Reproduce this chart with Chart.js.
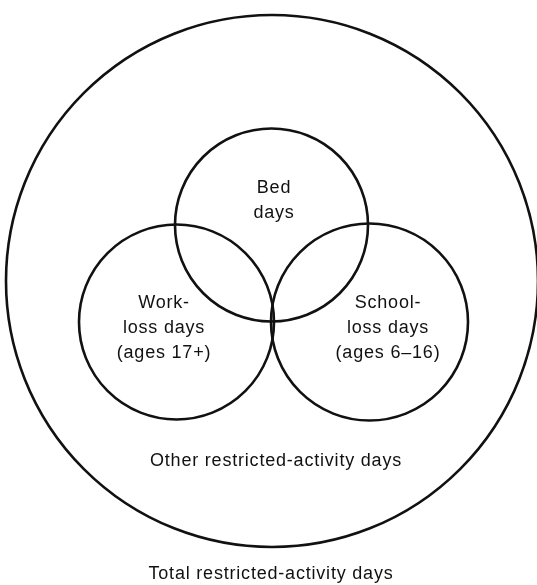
<!DOCTYPE html>
<html>
<head>
<meta charset="utf-8">
<script src="https://cdn.jsdelivr.net/npm/chart.js@4/dist/chart.umd.min.js"></script>
<style>
  html, body { margin: 0; padding: 0; background: #fff; }
  #wrap { width: 537px; height: 585px; }
</style>
</head>
<body>
<div id="wrap"><canvas id="c" width="537" height="585"></canvas></div>
<script>
// Sets (circles) of the diagram, in diagram units
const setNames   = ['Total restricted-activity days', 'Bed days', 'Work-loss days', 'School-loss days'];
const setCenterX = [272, 271.5, 176.5, 369.5];
const setCenterY = [281, 225, 322, 322];
const setRadius  = [266, 96.5, 97.5, 98.5];

// Text labels
const labelLines = [
  ['Bed', 'days'],
  ['Work-', 'loss days', '(ages 17+)'],
  ['School-', 'loss days', '(ages 6\u201316)'],
  ['Other restricted-activity days'],
  ['Total restricted-activity days']
];
const labelX = [274, 164, 388, 276, 271];
const labelY = [188, 303, 303, 461, 574];
const lineGap = 25;

const datasets = setNames.map((name, i) => ({
  label: name,
  data: [{ x: setCenterX[i], y: setCenterY[i], size: setRadius[i] }],
  backgroundColor: 'rgba(0,0,0,0)',
  borderColor: '#111',
  borderWidth: 2.6,
  clip: false
}));

const textPlugin = {
  id: 'vennText',
  afterDatasetsDraw(chart) {
    const ctx = chart.ctx;
    const xs = chart.scales.x, ys = chart.scales.y;
    ctx.save();
    ctx.fillStyle = '#111';
    ctx.font = '18px "Liberation Sans", Arial, sans-serif';
    if ('letterSpacing' in ctx) ctx.letterSpacing = '0.8px';
    ctx.textAlign = 'center';
    ctx.textBaseline = 'middle';
    labelLines.forEach((lines, i) => {
      lines.forEach((t, j) => {
        ctx.fillText(t, xs.getPixelForValue(labelX[i]), ys.getPixelForValue(labelY[i] + j * lineGap));
      });
    });
    ctx.restore();
  }
};

new Chart(document.getElementById('c'), {
  type: 'scatter',
  data: { datasets },
  options: {
    responsive: false,
    animation: false,
    events: [],
    layout: { padding: 0 },
    plugins: { legend: { display: false }, tooltip: { enabled: false } },
    elements: {
      point: {
        radius: (c) => {
          const s = c.chart.scales.x;
          if (!s || !c.raw) return 0;
          return s.getPixelForValue(c.raw.size) - s.getPixelForValue(0);
        },
        hoverRadius: 0,
        pointStyle: 'circle'
      }
    },
    scales: {
      x: { type: 'linear', display: false, min: 0, max: 537 },
      y: { type: 'linear', display: false, min: 0, max: 585, reverse: true }
    }
  },
  plugins: [textPlugin]
});
</script>
</body>
</html>
